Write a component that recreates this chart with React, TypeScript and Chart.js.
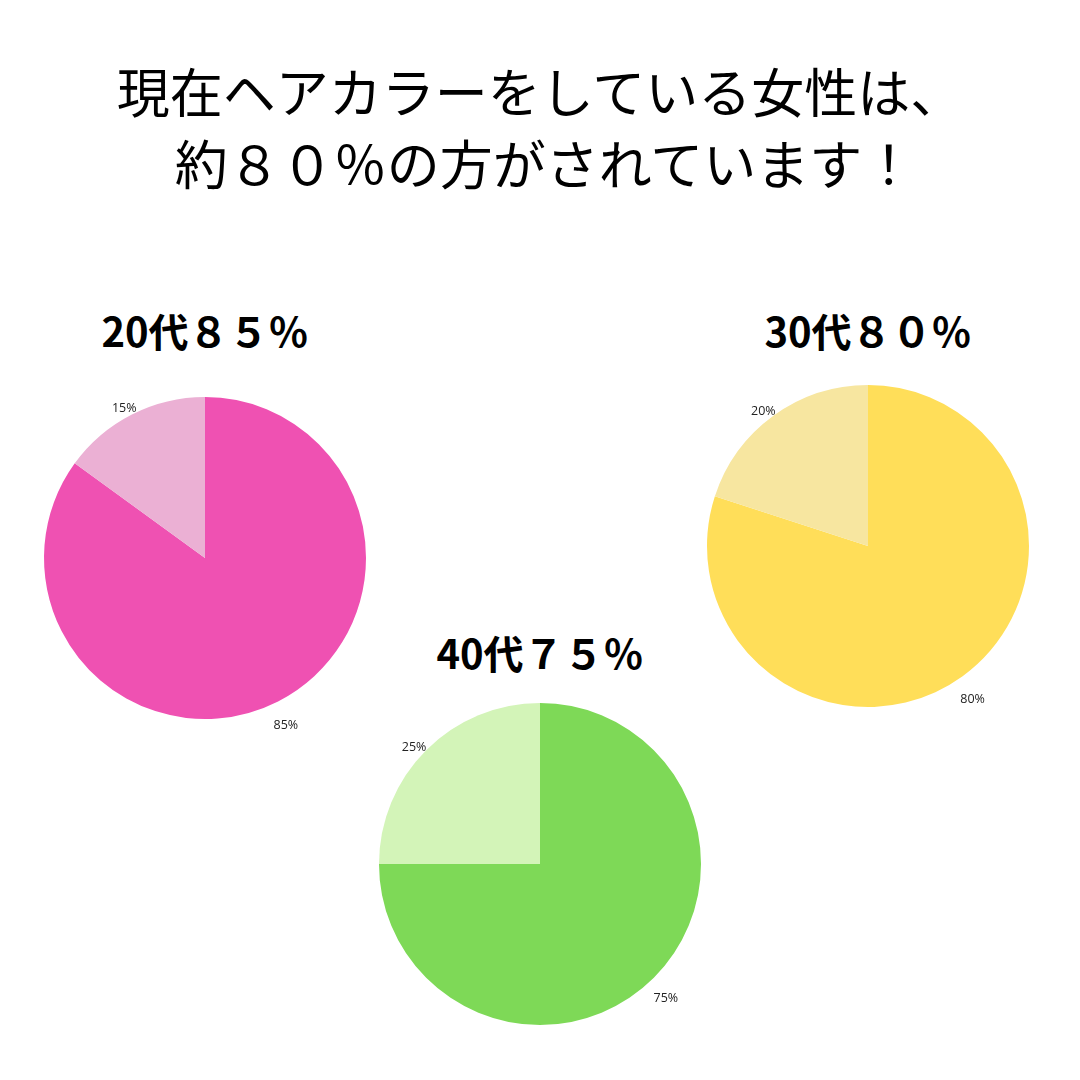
import React, { useEffect, useRef } from "react";
import { Chart, registerables } from "chart.js";

Chart.register(...registerables);

const titleLines = ["現在ヘアカラーをしている女性は、", "約８０％の方がされています！"];

const pieTitles = ["20代８５％", "30代８０％", "40代７５％"];
const pieLabels = ["した", "していない"];
const values20 = [85, 15];
const values30 = [80, 20];
const values40 = [75, 25];
const colors20 = ["#EF51B2", "#EBB0D4"];
const colors30 = ["#FFDE59", "#F7E6A0"];
const colors40 = ["#7ED957", "#D3F4B8"];

const outsideLabels = {
  id: "outsideLabels",
  afterDatasetsDraw(chart: any) {
    const ctx = chart.ctx;
    const meta = chart.getDatasetMeta(0);
    const data = chart.data.datasets[0].data;
    ctx.save();
    ctx.font = "12.5px 'Open Sans', 'Noto Sans', sans-serif";
    ctx.fillStyle = "#222";
    ctx.textAlign = "center";
    ctx.textBaseline = "middle";
    meta.data.forEach((arc: any, i: number) => {
      const p = arc.getProps(["x", "y", "startAngle", "endAngle", "outerRadius"], true);
      const mid = (p.startAngle + p.endAngle) / 2;
      const d = p.outerRadius + 17;
      const px = p.x + Math.cos(mid) * d;
      const py = p.y + Math.sin(mid) * d + 9;
      ctx.fillText(data[i] + "%", px, py);
    });
    ctx.restore();
  },
};

function Pie({ values, colors, cx, cy }: { values: number[]; colors: string[]; cx: number; cy: number }) {
  const ref = useRef<HTMLCanvasElement | null>(null);
  useEffect(() => {
    if (!ref.current) return;
    const chart = new Chart(ref.current, {
      type: "pie",
      data: {
        labels: pieLabels,
        datasets: [
          {
            data: values,
            backgroundColor: colors,
            borderWidth: 0,
            radius: 161,
          } as any,
        ],
      },
      options: {
        responsive: false,
        animation: false,
        layout: { padding: 0 },
        plugins: {
          legend: { display: false },
          tooltip: { enabled: false },
        },
      },
      plugins: [outsideLabels],
    });
    return () => chart.destroy();
  }, []);
  const size = 440;
  return (
    <canvas
      ref={ref}
      width={size}
      height={size}
      style={{ position: "absolute", left: cx - size / 2, top: cy - size / 2, width: size, height: size }}
    />
  );
}

export default function App() {
  useEffect(() => {
    document.body.style.margin = "0";
  }, []);
  const titleFont = "'Noto Sans CJK JP', 'Noto Sans', sans-serif";
  const sub = (text: string, cx: number, cy: number) => (
    <div
      style={{
        position: "absolute",
        left: cx - 200,
        top: cy - 30,
        width: 400,
        height: 60,
        lineHeight: "60px",
        textAlign: "center",
        fontFamily: titleFont,
        fontWeight: 700,
        fontSize: 40,
        color: "#000",
      }}
    >
      {text}
    </div>
  );
  return (
    <div style={{ position: "fixed", left: 0, top: 0, width: 1080, height: 1080, background: "#fff", overflow: "hidden" }}>
      {titleLines.map((t, i) => (
        <div
          key={i}
          style={{
            position: "absolute",
            left: i === 0 ? 0 : 5,
            top: 90 + i * 72 - 40,
            width: 1080,
            height: 80,
            lineHeight: "80px",
            textAlign: "center",
            fontFamily: titleFont,
            fontWeight: 400,
            fontSize: 53,
            color: "#000",
          }}
        >
          {t}
        </div>
      ))}
      {sub(pieTitles[0], 205, 330)}
      {sub(pieTitles[1], 868, 330)}
      {sub(pieTitles[2], 540, 652)}
      <Pie values={values20} colors={colors20} cx={205} cy={558} />
      <Pie values={values30} colors={colors30} cx={868} cy={546} />
      <Pie values={values40} colors={colors40} cx={540} cy={864} />
    </div>
  );
}
